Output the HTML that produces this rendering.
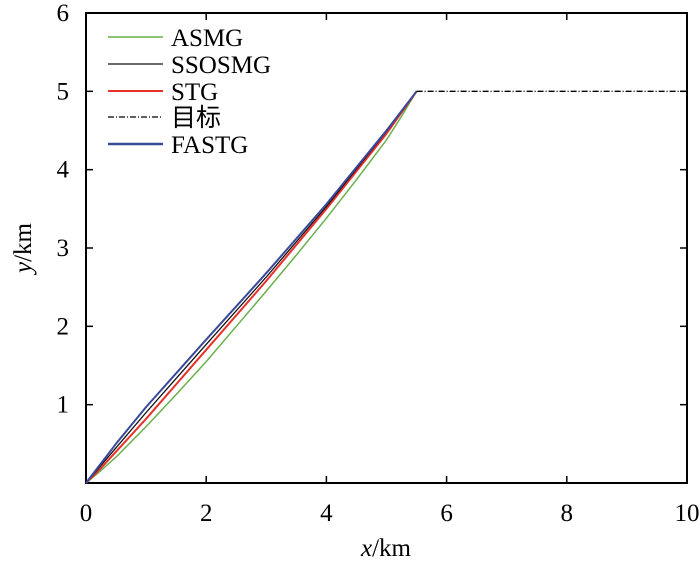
<!DOCTYPE html>
<html><head><meta charset="utf-8"><style>
html,body{margin:0;padding:0;background:#fff;}
text{font-family:"Liberation Serif",serif;}
</style></head><body>
<svg id="chart" width="700" height="561"></svg>
<script>
const xTicks=[0,2,4,6,8,10];
const yTicks=[1,2,3,4,5,6];
const seriesNames=["ASMG","SSOSMG","STG","目标","FASTG"];
const asmgX=[0,0.25,0.5,1,1.5,2,2.5,3,3.5,4,4.5,5,5.25,5.5];
const asmgY=[0,0.16,0.33,0.72,1.13,1.55,2.0,2.45,2.91,3.38,3.87,4.38,4.68,5];
const ssoX=[0,0.5,1,2,3,4,5,5.5];
const ssoY=[0,0.45,0.9,1.77,2.63,3.53,4.49,5];
const stgX=[0,0.25,0.5,1,2,3,4,5,5.5];
const stgY=[0,0.19,0.4,0.82,1.7,2.58,3.5,4.46,5];
const targetX=[5.5,10];
const targetY=[5,5];
const fastgX=[0,0.5,1,2,3,4,5,5.5];
const fastgY=[0,0.5,0.97,1.83,2.68,3.56,4.5,5];

const L=86,R=687,T=13,B=483;
const sx=v=>L+(R-L)*v/10;
const sy=v=>B-(B-T)*v/6;
const svg=document.getElementById('chart');
const NS='http://www.w3.org/2000/svg';
function mk(tag,attrs,text){const e=document.createElementNS(NS,tag);for(const k in attrs)e.setAttribute(k,attrs[k]);if(text!==undefined)e.textContent=text;svg.appendChild(e);return e;}
const FONT='"Liberation Serif", "Noto Serif CJK SC", serif';

xTicks.forEach(v=>{
  const t1=mk('line',{x1:sx(v),x2:sx(v),y1:B,y2:B-7,stroke:'#000','stroke-width':1.5});
  
  
  const t2=mk('line',{x1:sx(v),x2:sx(v),y1:T,y2:T+7,stroke:'#000','stroke-width':1.5});
  
  
  const lb=mk('text',{x:sx(v),y:521,'text-anchor':'middle','font-size':25,'font-family':FONT},String(v));
  
  
});
yTicks.forEach(v=>{
  const t1=mk('line',{x1:L,x2:L+7,y1:sy(v),y2:sy(v),stroke:'#000','stroke-width':1.5});
  
  
  const t2=mk('line',{x1:R,x2:R-7,y1:sy(v),y2:sy(v),stroke:'#000','stroke-width':1.5});
  
  
  const lb=mk('text',{x:69,y:sy(v)+8,'text-anchor':'end','font-size':25,'font-family':FONT},String(v));
  
  
});
const fr=mk('rect',{x:L,y:T,width:R-L,height:B-T,fill:'none',stroke:'#000','stroke-width':2});



const series=[
 {xs:asmgX,ys:asmgY,c:'#6ab04c',w:1.5,d:null,n:'asmg-line'},
 {xs:stgX,ys:stgY,c:'#e8302a',w:2,d:null,n:'stg-line'},
 {xs:ssoX,ys:ssoY,c:'#111',w:1.3,d:null,n:'ssosmg-line'},
 {xs:fastgX,ys:fastgY,c:'#3a4a9a',w:2,d:null,n:'fastg-line'},
 {xs:targetX,ys:targetY,c:'#000',w:1.3,d:'6,2,1,2',n:'target-line'}
];
series.forEach(s=>{
  let d='';
  for(let i=0;i<s.xs.length;i++){
    d+=(i?'L':'M')+sx(s.xs[i]).toFixed(1)+','+sy(s.ys[i]).toFixed(1);
  }
  const p=mk('path',{d:d,fill:'none',stroke:s.c,'stroke-width':s.w,'stroke-linejoin':'round'});
  if(s.d)p.setAttribute('stroke-dasharray',s.d);
  
  
});

const legColors=['#6ab04c','#111','#e8302a','#000','#3a4a9a'];
const legW=[1.5,1.3,2,1.3,2.5];
const legY=[37,64,91,117,144];
seriesNames.forEach((n,i)=>{
  const ln=mk('line',{x1:108,x2:163,y1:legY[i],y2:legY[i],stroke:legColors[i],'stroke-width':legW[i]});
  if(i===3)ln.setAttribute('stroke-dasharray','6,2,1,2');
  
  
  const t=mk('text',{x:171,y:legY[i]+9,'font-size':25,'font-family':FONT},n);
  
  
});

const xt=mk('text',{x:386,y:556,'text-anchor':'middle','font-size':25,'font-family':FONT});


xt.innerHTML='<tspan font-style="italic">x</tspan>/km';
const yt=mk('text',{x:0,y:0,'text-anchor':'middle','font-size':25,'font-family':FONT,transform:'translate(31,248) rotate(-90)'});


yt.innerHTML='<tspan font-style="italic">y</tspan>/km';
</script>
</body></html>
